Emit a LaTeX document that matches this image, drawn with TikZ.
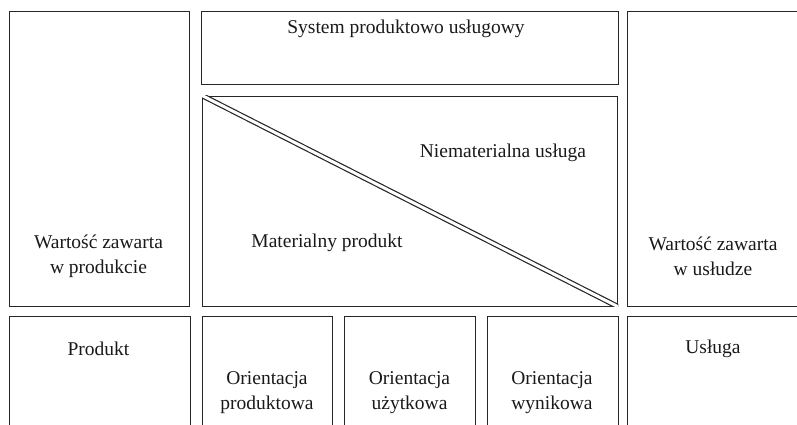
\documentclass[tikz,border=0pt]{standalone}
\usepackage{fontspec}
\setmainfont{Liberation Serif}
\begin{document}
\begin{tikzpicture}[x=1pt,y=-1pt,
  box/.style={draw=black!85,line width=1.4pt,fill=none,inner sep=0pt},
  lbl/.style={font=\fontsize{19.5}{25}\selectfont,align=center,inner sep=0pt,text=black!90}]
\useasboundingbox (0,0) rectangle (797,424);
\clip (0,0) rectangle (797,424);
% top section boxes
\node[box,anchor=north west,minimum width=180pt,minimum height=295pt] (L) at (8.5,10.5) {};
\node[box,anchor=north west,minimum width=417pt,minimum height=73.5pt] (T) at (200.5,10.5) {};
\node[box,anchor=north west,minimum width=415pt,minimum height=210pt] (M) at (202,95.5) {};
\node[box,anchor=north west,minimum width=175pt,minimum height=295pt] (R) at (627,10.5) {};
% bottom row boxes
\node[box,anchor=north west,minimum width=181.5pt,minimum height=130pt] (B1) at (8.5,316) {};
\node[box,anchor=north west,minimum width=130pt,minimum height=130pt] (B2) at (202,316) {};
\node[box,anchor=north west,minimum width=131pt,minimum height=130pt] (B3) at (344,316) {};
\node[box,anchor=north west,minimum width=130.5pt,minimum height=130pt] (B4) at (487,316) {};
\node[box,anchor=north west,minimum width=175pt,minimum height=130pt] (B5) at (627,316) {};
% diagonal double line
\begin{scope}
\clip (M.north west) rectangle (M.south east);
\draw[draw=black!85,line width=1.2pt,double=white,double distance=3pt] (M.north west) -- (M.south east);
\end{scope}
% texts
\node[lbl] (tT) at (406,29) {System produktowo usługowy};
\node[lbl] (tL) at (98.5,256) {Wartość zawarta\\w produkcie};
\node[lbl] (tR) at (713,256) {Wartość zawarta\\w usłudze};
\node[lbl] (tN) at (503,153) {Niematerialna usługa};
\node[lbl] (tM) at (327,243) {Materialny produkt};
\node[lbl] (t1) at (98.5,349) {Produkt};
\node[lbl] (t2) at (267,393) {Orientacja\\produktowa};
\node[lbl] (t3) at (409.5,393) {Orientacja\\użytkowa};
\node[lbl] (t4) at (552,393) {Orientacja\\wynikowa};
\node[lbl] (t5) at (713,349) {Usługa};
\end{tikzpicture}
\end{document}
